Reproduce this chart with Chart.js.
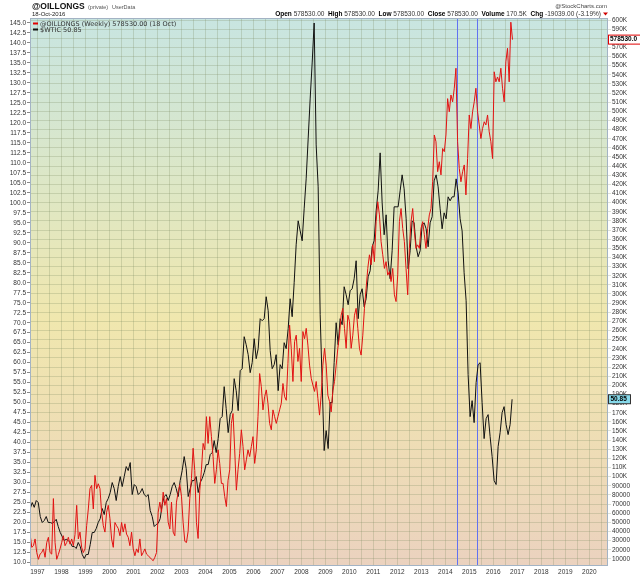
<!DOCTYPE html>
<html>
<head>
<meta charset="utf-8">
<script src="https://cdn.jsdelivr.net/npm/chart.js@4.4.0/dist/chart.umd.min.js"></script>
<style>
  html, body { margin: 0; padding: 0; background: #fff; }
  #wrap { width: 640px; height: 576px; }
</style>
</head>
<body>
<div id="wrap"><canvas id="chart" width="640" height="576"></canvas></div>
<script>
// Samples thinned out from the weekly chart.
// OILLONGS: first sample date (decimal year) and the spacing between samples
const oilStart = 1996.694;
const oilStep = 0.06933;
const oilLongs = [
    37100, 22600, 24400, 31800, 16900, 9500, 15200, 16900, 20900, 11700,
    27900, 33600, 16900, 15200, 76000, 27900, 9500, 14800, 20900, 27900,
    35300, 24400, 27900, 33600, 26100, 31800, 24400, 36600, 68600, 31800,
    39300, 22600, 16900, 20900, 46300, 64600, 86900, 90400, 64600, 101400,
    86900, 92200, 86900, 61100, 46300, 39300, 61100, 68600, 54100, 31800,
    22600, 49800, 46300, 43200, 35300, 49800, 39300, 48400, 37100, 33600,
    24400, 39300, 20900, 13400, 20900, 16900, 31800, 13400, 16900, 20900,
    15200, 13400, 11700, 9500, 8000, 11700, 16900, 61100, 72100, 61100,
    83000, 68600, 76000, 50200, 42800, 72100, 39300, 35300, 72100, 83000,
    91300, 78600, 49800, 29200, 27900, 40100, 76000, 97900, 131100, 106600,
    49800, 32300, 84800, 107500, 136400, 129400, 165700, 136400, 165700, 143800,
    122000, 92600, 107500, 129400, 114500, 92600, 92600, 78200, 67300, 96100,
    107500, 158300, 169200, 129400, 85200, 107500, 125400, 151300, 132900, 107500,
    118400, 129400, 122000, 132900, 143800, 114500, 129400, 165700, 212900, 198500,
    173100, 187600, 195000, 180100, 158300, 151300, 173100, 165700, 158300, 165700,
    173100, 180100, 202000, 187600, 183600, 223900, 265900, 240500, 204200, 247900,
    254900, 226100, 240500, 204200, 258900, 251000, 262400, 244000, 222100, 207700,
    200300, 193300, 204200, 185800, 167400, 189300, 222100, 240500, 222100, 189300,
    182300, 170900, 194100, 204200, 222100, 240500, 254900, 276800, 284300, 262400,
    240500, 276800, 269800, 240500, 254900, 276800, 284300, 262400, 240500, 233100,
    254900, 284300, 306100, 328000, 342900, 331900, 353800, 335400, 379200, 401000,
    386600, 357300, 342900, 328000, 335400, 320600, 324500, 313600, 328000, 299100,
    291700, 321000, 379200, 393600, 371800, 357300, 328000, 299100, 349900, 379200,
    393600, 368300, 349900, 353800, 349900, 371800, 379200, 364800, 349900, 371800,
    386600, 393600, 422900, 474100, 466700, 433900, 444800, 430400, 459300, 455800,
    474100, 513900, 499500, 517900, 510400, 525300, 547200, 466700, 437400, 422900,
    433900, 441300, 408500, 448300, 496000, 481100, 499500, 510400, 525300, 499500,
    485100, 470200, 481100, 488600, 485100, 496000, 477600, 466700, 448300, 543300,
    532300, 537600, 532300, 547200, 525300, 510400, 554200, 569100, 532300, 597600,
    578530
];

// $WTIC, one value per month from Sep 1996 to Oct 2016
const wticStart = 1996.70;
const wticStep = 1 / 12;
const wtic = [
    23.5, 25.0, 23.8, 25.5,
    25.0, 21.5, 20.0, 20.5, 21.5, 20.0, 20.0, 19.8, 20.2, 20.8, 19.0, 17.5,
    16.5, 15.5, 15.8, 15.5, 15.0, 14.0, 14.0, 13.5, 15.0, 14.0, 12.0, 11.0,
    12.0, 12.0, 14.5, 17.5, 17.5, 18.5, 20.0, 21.0, 23.5, 22.0, 25.0, 26.0,
    27.5, 30.0, 28.5, 25.5, 29.0, 31.5, 29.0, 31.5, 34.0, 33.0, 35.0, 27.0,
    29.5, 29.0, 27.0, 27.5, 28.5, 27.0, 26.5, 27.0, 23.0, 21.5, 19.0, 19.5,
    19.8, 21.0, 24.5, 26.5, 27.0, 25.5, 27.0, 29.0, 30.0, 28.5, 26.5, 30.5,
    33.0, 36.5, 33.5, 26.5, 28.5, 30.5, 30.5, 31.5, 27.5, 30.0, 31.0, 32.5,
    34.5, 34.5, 37.0, 37.5, 40.5, 37.5, 41.0, 46.0, 46.5, 54.0, 48.5, 42.5,
    47.0, 48.0, 56.0, 53.0, 48.0, 58.0, 58.5, 66.5, 64.5, 62.0, 57.5, 60.0,
    66.0, 61.0, 63.5, 71.0, 70.5, 71.0, 76.5, 73.0, 63.0, 58.5, 59.5, 62.0,
    53.0, 59.5, 58.5, 65.0, 63.5, 68.5, 76.0, 71.5, 80.0, 89.5, 95.5, 93.0,
    90.5, 98.5, 106.0, 116.0, 126.0, 135.0, 145.0, 114.5, 104.0, 72.0, 55.0, 38.0,
    43.0, 38.5, 50.0, 50.0, 60.0, 70.0, 64.5, 71.0, 69.5, 79.0, 77.0, 74.5,
    78.0, 78.5, 81.0, 85.5, 71.0, 77.0, 78.5, 74.0, 76.0, 81.5, 83.0, 89.0,
    90.5, 98.0, 103.0, 112.5, 100.0, 92.0, 97.0, 85.5, 81.0, 88.0, 99.0, 99.0,
    99.0, 103.0, 107.0, 103.5, 96.0, 83.5, 88.0, 95.5, 95.0, 89.0, 86.5, 88.0,
    94.5, 95.0, 93.5, 89.0, 95.0, 96.5, 105.5, 107.0, 104.0, 98.5, 93.5, 97.5,
    96.0, 101.5, 100.5, 101.5, 101.5, 106.0, 102.5, 96.0, 93.0, 82.5, 75.5, 57.0,
    46.5, 50.5, 45.0, 55.0, 59.5, 60.0, 50.0, 41.0, 46.0, 47.0, 41.5, 36.5,
    30.5, 29.5, 39.0, 42.5, 47.5, 49.0, 44.5, 42.0, 44.5, 50.85
];

const yearTicks = [1997, 1998, 1999, 2000, 2001, 2002, 2003, 2004, 2005, 2006, 2007, 2008,
    2009, 2010, 2011, 2012, 2013, 2014, 2015, 2016, 2017, 2018, 2019, 2020];

const leftTicks = [10, 12.5, 15, 17.5, 20, 22.5, 25, 27.5, 30, 32.5, 35, 37.5, 40, 42.5,
    45, 47.5, 50, 52.5, 55, 57.5, 60, 62.5, 65, 67.5, 70, 72.5, 75, 77.5, 80, 82.5, 85,
    87.5, 90, 92.5, 95, 97.5, 100, 102.5, 105, 107.5, 110, 112.5, 115, 117.5, 120, 122.5,
    125, 127.5, 130, 132.5, 135, 137.5, 140, 142.5, 145];

const rightTicks = [10000, 20000, 30000, 40000, 50000, 60000, 70000, 80000, 90000, 100000,
    110000, 120000, 130000, 140000, 150000, 160000, 170000, 180000, 190000, 200000,
    210000, 220000, 230000, 240000, 250000, 260000, 270000, 280000, 290000, 300000,
    310000, 320000, 330000, 340000, 350000, 360000, 370000, 380000, 390000, 400000,
    410000, 420000, 430000, 440000, 450000, 460000, 470000, 480000, 490000, 500000,
    510000, 520000, 530000, 540000, 550000, 560000, 570000, 580000, 590000, 600000];

// the two vertical marker lines on the chart (decimal years)
const markerLines = [2014.50, 2015.33];

const oilPoints = oilLongs.map((v, i) => ({ x: oilStart + i * oilStep, y: v }));
const wticPoints = wtic.map((v, i) => ({ x: wticStart + i * wticStep, y: v }));

// grid runs every half year, labels only on the years
const xGrid = [];
yearTicks.forEach(y => { xGrid.push(y); xGrid.push(y + 0.5); });

const axisFont = { family: "'Liberation Sans', Arial, sans-serif", size: 6.5 };
const gridColor = 'rgba(125, 138, 95, 0.26)';

const backdrop = {
    id: 'backdrop',
    beforeDraw(chart) {
        const { ctx, chartArea: a } = chart;
        const g = ctx.createLinearGradient(0, a.top, 0, a.bottom);
        g.addColorStop(0, '#c8e5e1');
        g.addColorStop(0.3, '#dde7c6');
        g.addColorStop(0.55, '#f0e7ae');
        g.addColorStop(0.8, '#eedcb6');
        g.addColorStop(1, '#ebd2bf');
        ctx.save();
        ctx.fillStyle = g;
        ctx.fillRect(a.left, a.top, a.right - a.left, a.bottom - a.top);
        ctx.restore();
    },
    beforeDatasetsDraw(chart) {
        const { ctx, chartArea: a, scales } = chart;
        ctx.save();
        ctx.strokeStyle = '#6272f2';
        ctx.lineWidth = 1;
        markerLines.forEach(t => {
            const x = Math.round(scales.x.getPixelForValue(t)) + 0.5;
            ctx.beginPath();
            ctx.moveTo(x, a.top);
            ctx.lineTo(x, a.bottom);
            ctx.stroke();
        });
        ctx.restore();
    }
};

const labels = {
    id: 'labels',
    afterDraw(chart) {
        const { ctx, chartArea: a, scales } = chart;
        ctx.save();

        // plot frame
        ctx.strokeStyle = '#a3b3c4';
        ctx.lineWidth = 1;
        ctx.strokeRect(a.left + 0.5, a.top + 0.5, a.right - a.left - 1, a.bottom - a.top - 1);

        // header
        ctx.textBaseline = 'alphabetic';
        ctx.fillStyle = '#111';
        ctx.font = "bold 8.5px 'Liberation Sans', Arial, sans-serif";
        ctx.fillText('@OILLONGS', 32, 9);
        ctx.fillStyle = '#555';
        ctx.font = "5.5px 'Liberation Sans', Arial, sans-serif";
        ctx.fillText('(private)', 88, 8.5);
        ctx.fillText('UserData', 112, 8.5);
        ctx.fillStyle = '#222';
        ctx.font = "6px 'Liberation Sans', Arial, sans-serif";
        ctx.fillText('18-Oct-2016', 32, 16);
        ctx.fillStyle = '#444';
        ctx.textAlign = 'right';
        ctx.fillText('@StockCharts.com', 607, 7.5);
        ctx.textAlign = 'left';

        // price line, right aligned in front of the arrow
        const parts = [
            ['Open', true], [' 578530.00  ', false], ['High', true], [' 578530.00  ', false],
            ['Low', true], [' 578530.00  ', false], ['Close', true], [' 578530.00  ', false],
            ['Volume', true], [' 170.5K  ', false], ['Chg', true], [' -19039.00 (-3.19%)', false]
        ];
        const bold = "bold 6.5px 'Liberation Sans', Arial, sans-serif";
        const norm = "6.5px 'Liberation Sans', Arial, sans-serif";
        let total = 0;
        parts.forEach(([s, b]) => { ctx.font = b ? bold : norm; total += ctx.measureText(s).width; });
        let x = 601 - total;
        parts.forEach(([s, b]) => {
            ctx.font = b ? bold : norm;
            ctx.fillStyle = b ? '#000' : '#333';
            ctx.fillText(s, x, 16);
            x += ctx.measureText(s).width;
        });
        ctx.fillStyle = '#d00000';
        ctx.beginPath();
        ctx.moveTo(603, 12.5);
        ctx.lineTo(608, 12.5);
        ctx.lineTo(605.5, 15.5);
        ctx.closePath();
        ctx.fill();

        // legend inside the plot
        ctx.font = "6.5px 'DejaVu Sans', Verdana, sans-serif";
        ctx.fillStyle = '#e00000';
        ctx.fillRect(a.left + 3, 22.5, 5, 2);
        ctx.fillStyle = '#111';
        ctx.fillRect(a.left + 3, 28.5, 5, 2);
        ctx.fillStyle = '#333';
        ctx.fillText('@OILLONGS (Weekly) 578530.00 (18 Oct)', a.left + 10, 26);
        ctx.fillText('$WTIC 50.85', a.left + 10, 32);

        // last value tags on the right axis
        const lastOil = oilLongs[oilLongs.length - 1];
        const lastWtic = wtic[wtic.length - 1];
        const yo = scales.yR.getPixelForValue(lastOil);
        const yw = scales.yL.getPixelForValue(lastWtic);
        ctx.font = "bold 6.5px 'Liberation Sans', Arial, sans-serif";
        ctx.textBaseline = 'middle';

        ctx.fillStyle = '#ffffff';
        ctx.fillRect(a.right + 0.5, yo - 4.5, 40, 9);
        ctx.strokeStyle = '#e00000';
        ctx.strokeRect(a.right + 0.5, yo - 4.5, 40, 9);
        ctx.fillStyle = '#000';
        ctx.fillText(lastOil.toFixed(1), a.right + 2, yo);

        ctx.fillStyle = '#86d9ea';
        ctx.fillRect(a.right + 0.5, yw - 4.5, 22, 9);
        ctx.strokeStyle = '#333';
        ctx.strokeRect(a.right + 0.5, yw - 4.5, 22, 9);
        ctx.fillStyle = '#000';
        ctx.fillText(lastWtic.toFixed(2), a.right + 2.5, yw);

        ctx.restore();
    }
};

new Chart(document.getElementById('chart'), {
    type: 'line',
    data: {
        datasets: [
            {
                label: '@OILLONGS',
                data: oilPoints,
                yAxisID: 'yR',
                borderColor: '#e21212',
                borderWidth: 1,
                pointRadius: 0,
                tension: 0
            },
            {
                label: '$WTIC',
                data: wticPoints,
                yAxisID: 'yL',
                borderColor: '#111111',
                borderWidth: 1,
                pointRadius: 0,
                tension: 0
            }
        ]
    },
    options: {
        responsive: false,
        animation: false,
        layout: { padding: { top: 18, left: 0, right: 0, bottom: 0 } },
        plugins: {
            legend: { display: false },
            tooltip: { enabled: false }
        },
        scales: {
            x: {
                type: 'linear',
                min: 1996.69,
                max: 2020.78,
                afterBuildTicks: s => { s.ticks = xGrid.map(v => ({ value: v })); },
                afterFit: s => { s.height = 10; },
                grid: { color: gridColor, drawTicks: false },
                border: { display: false },
                ticks: {
                    autoSkip: false,
                    maxRotation: 0,
                    padding: 2,
                    font: axisFont,
                    color: '#333',
                    callback: v => (yearTicks.includes(v) ? String(v) : '')
                }
            },
            yL: {
                position: 'left',
                min: 9.12,
                max: 146.25,
                afterBuildTicks: s => { s.ticks = leftTicks.map(v => ({ value: v })); },
                afterFit: s => { s.width = 30; },
                grid: { drawOnChartArea: false, tickLength: 3, color: '#888' },
                border: { display: false },
                ticks: {
                    autoSkip: false,
                    padding: 1,
                    font: axisFont,
                    color: '#333',
                    callback: v => v.toFixed(1)
                }
            },
            yR: {
                position: 'right',
                min: 2170,
                max: 602190,
                afterBuildTicks: s => { s.ticks = rightTicks.map(v => ({ value: v })); },
                afterFit: s => { s.width = 32; },
                grid: { color: gridColor, tickLength: 3 },
                border: { display: false },
                ticks: {
                    autoSkip: false,
                    padding: 1,
                    font: axisFont,
                    color: '#333',
                    callback: v => (v < 100000 ? String(v) : (v / 1000) + 'K')
                }
            }
        }
    },
    plugins: [backdrop, labels]
});
</script>
</body>
</html>
